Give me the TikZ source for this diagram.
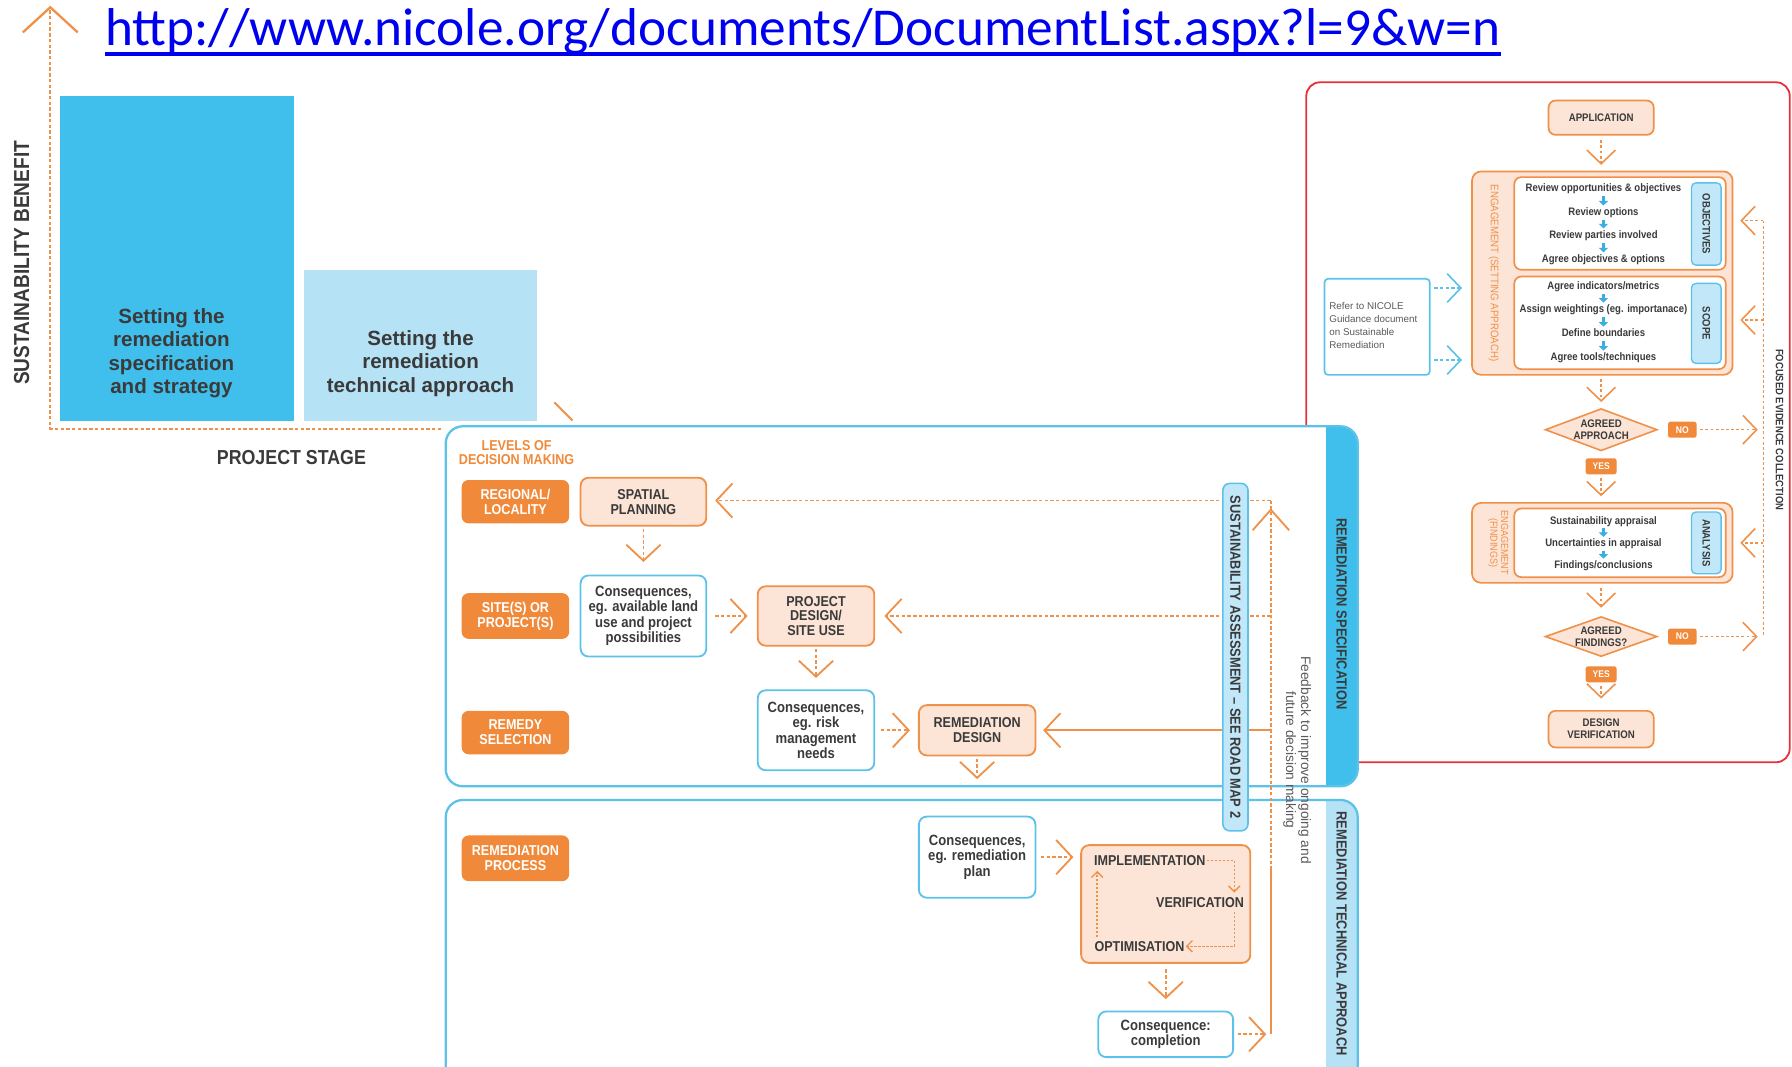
\documentclass[tikz,border=0pt]{standalone}
\usepackage{fontspec}
\setmainfont{Liberation Sans}
\newfontfamily\cf[FakeStretch=0.88]{Liberation Sans}
\newfontfamily\urlf{Carlito}
\usetikzlibrary{arrows.meta,shapes.geometric}
\definecolor{orD}{HTML}{F08A3A}
\definecolor{orB}{HTML}{F0914A}
\definecolor{peach}{HTML}{FCE4D6}
\definecolor{cyB}{HTML}{5CC2E9}
\definecolor{blueBar}{HTML}{40BFEC}
\definecolor{lightBar}{HTML}{B6E2F6}
\definecolor{tabB}{HTML}{C2E7F8}
\definecolor{txt}{HTML}{3A3A3A}
\definecolor{gtxt}{HTML}{5A5A5A}
\definecolor{redL}{HTML}{E8313B}
\definecolor{urlB}{HTML}{0000F0}
\definecolor{arrB}{HTML}{3AAEE2}
\newcommand\fsz[2]{\fontsize{#1}{#2}\selectfont}
\tikzset{
  chev/.tip={Straight Barb[length=14pt,width=30pt,line width=1.6pt]},
  chevS/.tip={Straight Barb[length=12pt,width=25pt,line width=1.4pt]},
  chevT/.tip={Straight Barb[length=5pt,width=10pt,line width=1.2pt]},
  dashO/.style={draw=orB, line width=1.4pt, dash pattern=on 3pt off 2pt},
  darr/.style={dashO, -{chev}},
  darrS/.style={draw=orB, line width=1.3pt, dash pattern=on 2.5pt off 2pt, -{chevS}},
  carr/.style={draw=cyB, line width=1.3pt, dash pattern=on 3pt off 2pt, -{chevS}},
  idarr/.style={draw=orB, line width=1.2pt, dash pattern=on 2pt off 1.5pt, -{chevT}},
  barr/.style={draw=arrB, line width=2.8pt, -{Triangle[length=4pt,width=8pt]}, shorten <=1.5pt, shorten >=1.5pt},
  lab/.style={fill=orD, rounded corners=6pt, text=white, font=\cf\bfseries\fsz{12.5}{13}, align=center, minimum width=94, minimum height=38, inner sep=0},
  pbox/.style={fill=peach, draw=orB, line width=1.6pt, rounded corners=7pt, text=txt, font=\cf\bfseries\fsz{12.5}{13}, align=center, inner sep=0},
  cbox/.style={fill=white, draw=cyB, line width=1.6pt, rounded corners=7pt, text=txt, font=\cf\bfseries\fsz{13}{13.6}, align=center, inner sep=0},
  rbox/.style={fill=peach, draw=orB, line width=1.5pt, rounded corners=6pt, text=txt, font=\cf\bfseries\fsz{9.6}{10.6}, align=center, inner sep=0},
  ibox/.style={fill=white, draw=orB, line width=1.5pt, rounded corners=6pt, inner sep=0},
  itxt/.style={text=txt, font=\cf\bfseries\fsz{9.5}{10}, inner sep=0, text height=7pt, text depth=2pt},
  ivt/.style={text=txt, font=\cf\bfseries\fsz{12.5}{13}, inner sep=1pt},
  tabx/.style={fill=tabB, draw=cyB, line width=1.2pt, rounded corners=4pt, text=txt, font=\cf\bfseries\fsz{9.5}{10}, rotate=-90, inner sep=0, minimum height=26},
  yn/.style={fill=orD, text=white, font=\cf\bfseries\fsz{8.5}{9}, minimum width=25, minimum height=14, inner sep=0, rounded corners=2pt},
  dia/.style={diamond, fill=peach, draw=orB, line width=1.4pt, inner sep=0},
  engbox/.style={fill=peach, draw=orB, line width=1.5pt, rounded corners=8pt, inner sep=0},
}
\begin{document}
\begin{tikzpicture}[x=1pt,y=-1pt]
\fill[white] (0,0) rectangle (1568,933);
\useasboundingbox (0,0) rectangle (1568,933);

% ---------- URL ----------
\node[anchor=base west, inner sep=0, text=urlB, font=\urlf\fsz{46.6}{50}] (url) at (92,40) {http://www.nicole.org/documents/DocumentList.aspx?l=9\&w=n};
\draw[urlB, line width=3.2pt] ([yshift=-7pt]url.base west) -- ([yshift=-7pt]url.base east);

% ---------- bar chart ----------
\coordinate (org) at (44,375);
\coordinate (ytop) at (44,5);
\coordinate (xend) at (386,375);
\draw[dashO, line width=1.7pt, -{Straight Barb[length=22pt,width=48pt,line width=2pt]}] (xend) -- (org) -- (ytop);
\node[fill=blueBar, anchor=north west, minimum width=205, minimum height=284, inner sep=0] (bar1) at (52,84) {};
\node[fill=lightBar, anchor=north west, minimum width=204, minimum height=132, inner sep=0] (bar2) at (266,236) {};
\node[text=txt, font=\bfseries\fsz{18}{20.4}, align=center] (bar1t) at (150,309) {Setting the\\remediation\\specification\\and strategy};
\node[text=txt, font=\bfseries\fsz{18}{20.4}, align=center] (bar2t) at (368,318) {Setting the\\remediation\\technical approach};
\node[text=txt, font=\cf\bfseries\fsz{19}{20}, rotate=90] (yl) at (19,230) {SUSTAINABILITY BENEFIT};
\node[text=txt, font=\cf\bfseries\fsz{17.7}{20}] (xl) at (255,400) {PROJECT STAGE};
\coordinate (dg1) at (485,352);
\coordinate (dg2) at (501,368);
\draw[orB, line width=1.8pt] (dg1) -- (dg2);

% ---------- red frame ----------
\draw[redL, line width=1.6pt, rounded corners=12pt] (1143,72) rectangle (1566,667);

% ---------- centre panels ----------
\begin{scope}
\clip[rounded corners=15pt] (390,373) rectangle (1188,688);
\fill[white] (390,373) rectangle (1188,688);
\fill[blueBar] (1160,373) rectangle (1188,688);
\end{scope}
\draw[cyB, line width=2pt, rounded corners=15pt] (390,373) rectangle (1188,688);
\begin{scope}
\clip[rounded corners=15pt] (390,700) rectangle (1188,950);
\fill[white] (390,700) rectangle (1188,950);
\fill[lightBar] (1160,700) rectangle (1188,950);
\end{scope}
\draw[cyB, line width=2pt, rounded corners=15pt] (390,700) rectangle (1188,950);
\node[text=txt, font=\cf\bfseries\fsz{12.8}{13}, rotate=-90] (rs) at (1174,537) {REMEDIATION SPECIFICATION};
\node[text=txt, font=\cf\bfseries\fsz{12.8}{13}, rotate=-90] (rta) at (1174,817) {REMEDIATION TECHNICAL APPROACH};

\node[text=orD, font=\cf\bfseries\fsz{12.5}{12}, align=center] (lvl) at (452,396) {LEVELS OF\\DECISION MAKING};
\node[lab] (reg) at (451,439) {REGIONAL/\\LOCALITY};
\node[lab, minimum height=40] (site) at (451,539) {SITE(S) OR\\PROJECT(S)};
\node[lab] (rem) at (451,641) {REMEDY\\SELECTION};
\node[lab, minimum height=40] (rproc) at (451,751) {REMEDIATION\\PROCESS};

\node[pbox, minimum width=110, minimum height=42] (sp) at (563,439) {SPATIAL\\PLANNING};
\node[cbox, minimum width=110, minimum height=71] (c1) at (563,539) {Consequences,\\eg. available land\\use and project\\possibilities};
\node[pbox, minimum width=102, minimum height=52] (pd) at (714,539) {PROJECT\\DESIGN/\\SITE USE};
\node[cbox, minimum width=102, minimum height=70] (c2) at (714,639) {Consequences,\\eg. risk\\management\\needs};
\node[pbox, minimum width=102, minimum height=44] (rd) at (855,639) {REMEDIATION\\DESIGN};
\node[cbox, minimum width=102, minimum height=71] (c3) at (855,750) {Consequences,\\eg. remediation\\plan};
\node[pbox, minimum width=148, minimum height=103] (ivo) at (1020,791) {};
\node[ivt] (impl) at (1006,753) {IMPLEMENTATION};
\node[ivt] (verif) at (1050,790) {VERIFICATION};
\node[ivt] (optim) at (997,828) {OPTIMISATION};
\node[cbox, minimum width=118, minimum height=40] (comp) at (1020,905) {Consequence:\\completion};

\draw[darr, shorten <=2pt, shorten >=11pt] (sp) -- (c1);
\draw[darr, shorten <=7pt, shorten >=8pt] (c1) -- (pd);
\draw[darr, shorten <=2pt, shorten >=10pt] (pd) -- (c2);
\draw[darr, shorten <=5pt, shorten >=7pt] (c2) -- (rd);
\draw[darr, shorten <=2pt, shorten >=32pt] (rd) -- (c3);
\draw[darr, shorten <=4pt, shorten >=6pt] (c3.east) -- (c3.east -| ivo.west);
\draw[darr, shorten <=5pt, shorten >=10pt] (ivo) -- (comp);

\coordinate (vtop) at (1080,781);
\coordinate (vbot) at (1080,798);
\coordinate (otop) at (960,762);
\coordinate (obot) at (960,820);
\draw[idarr] (impl.east) -| (vtop);
\draw[idarr] (vbot) |- (optim.east);
\draw[idarr] (obot) -- (otop);

% ---------- feedback loop ----------
\coordinate (fbA) at (1112,438);
\coordinate (fbB) at (1112,539);
\coordinate (fbC) at (1112,639);
\coordinate (fbM) at (1112,761);
\coordinate (fbD) at (1112,905);
\draw[dashO] (fbM) -- (fbA);
\draw[orB, line width=1.4pt] (fbD) -- (fbM);
\draw[darr, shorten >=7pt] (fbA) -- (fbA -| sp.east);
\draw[darr, shorten >=8pt] (fbB) -- (fbB -| pd.east);
\draw[orB, line width=1.4pt, -{chev}, shorten >=6pt] (fbC) -- (fbC -| rd.east);
\draw[darr, shorten <=3pt, shorten >=4pt] (comp.east) -- (fbD);
\coordinate (upL) at (1096,464);
\coordinate (upT) at (1112,446);
\coordinate (upR) at (1128,464);
\draw[orB, line width=1.6pt] (upL) -- (upT) -- (upR);

\node[fill=tabB, draw=cyB, line width=1.4pt, rounded corners=6pt, rotate=-90, minimum width=304, minimum height=22, inner sep=0, text=txt, font=\cf\bfseries\fsz{12.8}{13}] (sa) at (1081,575) {SUSTAINABILITY ASSESSMENT – SEE ROAD MAP 2};
\node[rotate=-90, text=gtxt, font=\fsz{12}{13}, align=center] (fbt) at (1135,665) {Feedback to improve ongoing and\\future decision making};

% ---------- right panel ----------
\node[rbox, minimum width=92, minimum height=30] (app) at (1401,103) {APPLICATION};
\node[engbox, minimum width=228, minimum height=178] (eng1) at (1402,239) {};
\node[ibox, minimum width=185, minimum height=81] (obj) at (1417.5,195.5) {};
\node[ibox, minimum width=185, minimum height=81] (scp) at (1417.5,282.5) {};
\node[text=orB, font=\cf\fsz{9.6}{10}, rotate=-90] (engt1) at (1307,239) {ENGAGEMENT (SETTING APPROACH)};
\node[itxt] (o1) at (1403,165) {Review opportunities \& objectives};
\node[itxt] (o2) at (1403,186) {Review options};
\node[itxt] (o3) at (1403,206) {Review parties involved};
\node[itxt] (o4) at (1403,227) {Agree objectives \& options};
\node[itxt] (s1) at (1403,251) {Agree indicators/metrics};
\node[itxt] (s2) at (1403,271) {Assign weightings (eg. importanace)};
\node[itxt] (s3) at (1403,292) {Define boundaries};
\node[itxt] (s4) at (1403,313) {Agree tools/techniques};
\node[tabx, minimum width=72] (objtab) at (1493,196) {OBJECTIVES};
\node[tabx, minimum width=70] (scptab) at (1493,283) {SCOPE};

\node[fill=white, draw=cyB, line width=1.5pt, rounded corners=3pt, minimum width=92, minimum height=84, inner sep=0] (refer) at (1205,286) {};
\node[anchor=west, text=gtxt, font=\fsz{8.6}{11.5}, align=left, inner sep=0] (refert) at (1163,285) {Refer to NICOLE\\Guidance document\\on Sustainable\\Remediation};
\coordinate (ra1) at (1251,252);
\coordinate (ra2) at (1251,315);
\draw[carr, shorten <=4pt, shorten >=8pt] (ra1) -- (ra1 -| eng1.west);
\draw[carr, shorten <=4pt, shorten >=8pt] (ra2) -- (ra2 -| eng1.west);

\node[dia, minimum width=98, minimum height=37] (d1) at (1401,376) {};
\node[text=txt, font=\cf\bfseries\fsz{9.6}{10.5}, align=center] (d1t) at (1401,376) {AGREED\\APPROACH};
\node[yn] (no1) at (1472,376) {NO};
\node[yn, minimum width=27] (yes1) at (1401,408) {YES};

\node[engbox, minimum width=228, minimum height=70] (eng2) at (1402,475) {};
\node[ibox, minimum width=185, minimum height=60] (ana) at (1417.5,475) {};
\node[text=orB, font=\cf\fsz{9}{9.5}, rotate=-90, align=center] (engt2) at (1311,475) {ENGAGEMENT\\(FINDINGS)};
\node[itxt] (a1) at (1403,456) {Sustainability appraisal};
\node[itxt] (a2) at (1403,476) {Uncertainties in appraisal};
\node[itxt] (a3) at (1403,495) {Findings/conclusions};
\node[tabx, minimum width=54] (anatab) at (1493,475) {ANALYSIS};

\node[dia, minimum width=98, minimum height=35] (d2) at (1401,557) {};
\node[text=txt, font=\cf\bfseries\fsz{9.6}{10.5}, align=center] (d2t) at (1401,557) {AGREED\\FINDINGS?};
\node[yn] (no2) at (1472,557) {NO};
\node[yn, minimum width=27] (yes2) at (1401,590) {YES};
\node[rbox, minimum width=92, minimum height=32] (dv) at (1401,638) {DESIGN\\VERIFICATION};

\foreach \a/\b in {o1/o2,o2/o3,o3/o4,s1/s2,s2/s3,s3/s4,a1/a2,a2/a3} \draw[barr] (\a) -- (\b);

\draw[darrS, shorten <=4pt, shorten >=5pt] (app) -- (app |- eng1.north);
\draw[darrS, shorten <=3pt, shorten >=5pt] (d1 |- eng1.south) -- (d1);
\draw[darrS, shorten <=3pt, shorten >=5pt] (yes1) -- (yes1 |- eng2.north);
\draw[darrS, shorten <=4pt, shorten >=7pt] (d2 |- eng2.south) -- (d2);
\draw[darrS, shorten <=3pt, shorten >=10pt] (yes2) -- (dv);

\coordinate (fc1) at (1543,193);
\coordinate (fc2) at (1543,280);
\coordinate (fc3) at (1543,376);
\coordinate (fc4) at (1543,475);
\coordinate (fc5) at (1543,557);
\draw[draw=orB, line width=1.3pt, dash pattern=on 2.5pt off 2pt] (fc1) -- (fc5);
\draw[darrS, shorten <=3pt, shorten >=5pt] (no1) -- (fc3);
\draw[darrS, shorten <=3pt, shorten >=5pt] (no2) -- (fc5);
\draw[darrS, shorten >=6pt] (fc1) -- (fc1 -| eng1.east);
\draw[darrS, shorten >=6pt] (fc2) -- (fc2 -| eng1.east);
\draw[darrS, shorten >=6pt] (fc4) -- (fc4 -| eng2.east);
\node[text=txt, font=\cf\bfseries\fsz{9.4}{10}, rotate=-90] (fec) at (1557,376) {FOCUSED EVIDENCE COLLECTION};
\end{tikzpicture}
\end{document}
